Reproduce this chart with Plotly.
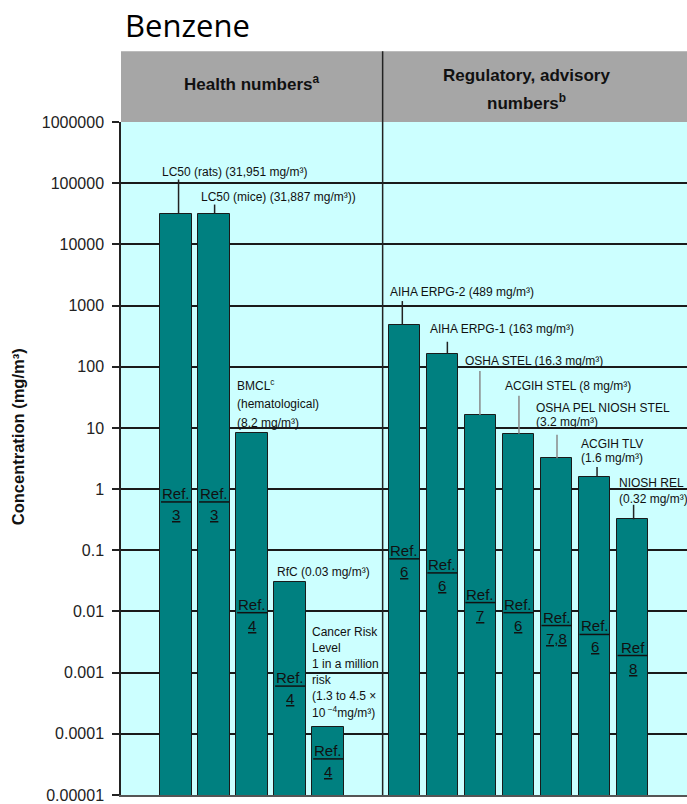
import math
import plotly.graph_objects as go

# ---------------- data ----------------
categories = ["LC50 (rats)", "LC50 (mice)", "BMCL", "RfC", "Cancer Risk Level",
              "AIHA ERPG-2", "AIHA ERPG-1", "OSHA STEL", "ACGIH STEL",
              "OSHA PEL / NIOSH STEL", "ACGIH TLV", "NIOSH REL"]
groups = ["health"] * 5 + ["regulatory"] * 7
values = [31951, 31887, 8.2, 0.03, 1.3e-4, 489, 163, 16.3, 8, 3.2, 1.6, 0.32]
ref_words = ["Ref."] * 11 + ["Ref"]
ref_numbers = ["3", "3", "4", "4", "4", "6", "6", "7", "6", "7,8", "6", "8"]
label_lines = [
    ["LC50 (rats) (31,951 mg/m³)"],
    ["LC50 (mice) (31,887 mg/m³))"],
    ["BMCL<sup>c</sup>", "(hematological)", "(8.2 mg/m³)"],
    ["RfC (0.03 mg/m³)"],
    ["Cancer Risk", "Level", "1 in a million", "risk", "(1.3 to 4.5 ×", "10<sup> −4</sup>mg/m³)"],
    ["AIHA ERPG-2 (489 mg/m³)"],
    ["AIHA ERPG-1 (163 mg/m³)"],
    ["OSHA STEL (16.3 mg/m³)"],
    ["ACGIH STEL (8 mg/m³)"],
    ["OSHA PEL NIOSH STEL", "(3.2 mg/m³)"],
    ["ACGIH TLV", "(1.6 mg/m³)"],
    ["NIOSH REL", "(0.32 mg/m³)"],
]
group_title_lines = [["Health numbers<sup>a</sup>"], ["Regulatory, advisory", "numbers<sup>b</sup>"]]
tick_values = [1e6, 1e5, 1e4, 1e3, 100, 10, 1, 0.1, 0.01, 0.001, 0.0001, 0.00001]
tick_labels = ["1000000", "100000", "10000", "1000", "100", "10", "1",
               "0.1", "0.01", "0.001", "0.0001", "0.00001"]
y_title = "Concentration (mg/m³)"
chart_title = "Benzene"

# ---------------- layout / style (positions in pixels) ----------------
label_dx = [-16.5, -15.5, -17, -15, -18, -16, -14.7, -17.2, -15.8, -22.7, -15.5, -16]
label_dy = [41.8, 16.9, 10, 10.3, 14.6, 32.5, 25.2, 54, 47.5, 36.5, 18.4, 20.6]
label_spacing = [0, 0, 19, 0, 16.1, 0, 0, 0, 0, 13.4, 14.3, 15.7]
leader_len = [34, 9, 0, 0, 0, 23.5, 12, 44, 38, 23.5, 9.5, 14.6]
leader_dx = [2.5, 0.5, 0, 0, 0, -2, 5, -0.5, 0.5, 0.5, 2.5, 1]
leader_color = ["#222222", "#222222", None, None, None, "#222222", "#222222",
                "#8a8a8a", "#8a8a8a", "#8a8a8a", "#222222", "#222222"]
ref_line_log = [-0.21, -0.21, -2.02, -3.22, -4.41, -1.14, -1.37, -1.855, -2.02, -2.23, -2.376, -2.72]
group_title_x = [0.2314, 0.7173]
group_title_y = [[1.0578], [1.0696, 1.0296]]

BAR_W = 0.83
FONT = "Liberation Sans, Arial, sans-serif"
TEAL = "#008080"

x_pos = [i if g == "health" else i + 1 for i, g in enumerate(groups)]

fig = go.Figure()
fig.add_trace(go.Bar(
    x=x_pos, y=values, width=BAR_W,
    marker=dict(color=TEAL, line=dict(color="#1a1a1a", width=1)),
    hoverinfo="skip", showlegend=False,
))

shapes = []
annotations = []

# header band
shapes.append(dict(type="rect", xref="paper", yref="paper", x0=0, x1=1, y0=1, y1=1.1052,
                   fillcolor="#A6A6A6", line=dict(width=0), layer="below"))
# group divider
shapes.append(dict(type="line", xref="x", yref="paper", x0=5.43, x1=5.43, y0=0, y1=1.1052,
                   line=dict(color="#222222", width=1.5)))
# header titles
for gx, gys, glines in zip(group_title_x, group_title_y, group_title_lines):
    for gy, gl in zip(gys, glines):
        annotations.append(dict(xref="paper", yref="paper", x=gx, y=gy, text=gl,
                                showarrow=False, xanchor="center", yanchor="middle",
                                font=dict(family=FONT, size=17, color="#111111", weight="bold")))

for i, v in enumerate(values):
    xv = x_pos[i]
    lv = math.log10(v)
    lines = label_lines[i]
    n = len(lines)
    for k, line in enumerate(lines):
        annotations.append(dict(
            x=xv, y=lv, xref="x", yref="y", text=line, showarrow=False,
            xanchor="left", yanchor="middle", align="left",
            xshift=label_dx[i], yshift=label_dy[i] + (n - 1 - k) * label_spacing[i],
            font=dict(family=FONT, size=12, color="#111111")))
    if leader_len[i] > 0:
        shapes.append(dict(type="line", xref="x", yref="y",
                           xsizemode="pixel", xanchor=xv, x0=leader_dx[i], x1=leader_dx[i],
                           ysizemode="pixel", yanchor=v, y0=0, y1=leader_len[i],
                           line=dict(color=leader_color[i], width=1.5)))
    # reference labels inside bars
    rl = ref_line_log[i]
    shapes.append(dict(type="line", xref="x", yref="y",
                       x0=xv - BAR_W / 2 + 0.02, x1=xv + BAR_W / 2 - 0.02,
                       y0=10 ** rl, y1=10 ** rl, line=dict(color="#111111", width=1.5)))
    annotations.append(dict(x=xv, y=rl, xref="x", yref="y", text=ref_words[i], showarrow=False,
                            xanchor="center", yanchor="middle", yshift=8.5,
                            font=dict(family=FONT, size=15, color="#111111")))
    annotations.append(dict(x=xv, y=rl, xref="x", yref="y", text="<u>" + ref_numbers[i] + "</u>",
                            showarrow=False, xanchor="center", yanchor="middle", yshift=-12.5,
                            font=dict(family=FONT, size=15, color="#111111")))

# y title
annotations.append(dict(xref="paper", yref="paper", x=-0.182, y=0.533, text=y_title,
                        showarrow=False, textangle=-90, xanchor="center", yanchor="middle",
                        font=dict(family=FONT, size=16.5, color="#111111", weight="bold")))
# chart title
annotations.append(dict(xref="paper", yref="paper", x=0.0035, y=1.1437, text=chart_title,
                        showarrow=False, xanchor="left", yanchor="middle",
                        font=dict(family="Open Sans, sans-serif", size=31, color="#000000")))

fig.update_layout(
    width=687, height=804,
    margin=dict(l=121, r=0, t=122, b=7),
    paper_bgcolor="white", plot_bgcolor="#CCFFFF",
    bargap=0, shapes=shapes, annotations=annotations,
    xaxis=dict(range=[-1.447, 13.43], showticklabels=False, ticks="", showgrid=False,
               zeroline=False, showline=True, linecolor="#555555", linewidth=2, fixedrange=True),
    yaxis=dict(type="log", range=[-5, 6], tickvals=tick_values, ticktext=tick_labels,
               ticks="outside", ticklen=7, tickwidth=1.5, tickcolor="#222222",
               showline=True, linecolor="#222222", linewidth=1.5,
               showgrid=True, gridcolor="#1a1a1a", gridwidth=1.6, zeroline=False,
               tickfont=dict(family=FONT, size=16, color="#222222"),
               ticklabelstandoff=5, ticklabeloverflow="allow", fixedrange=True),
)

# remove the browser's default 8 px page margin so the 687x804 figure fills the window
fig.write_html("out.html",
               config={"displayModeBar": False},
               post_script="document.body.style.margin='0';document.body.style.overflow='hidden';")
